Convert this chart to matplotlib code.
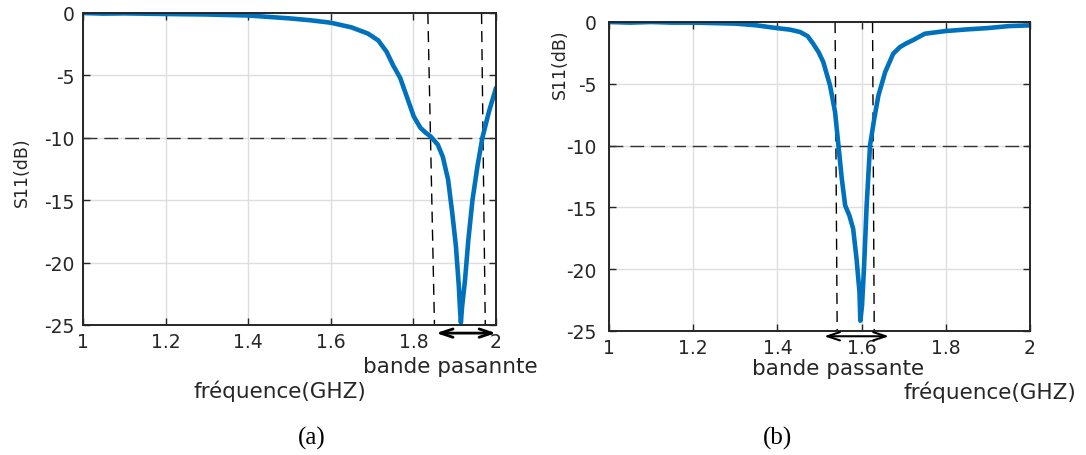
import numpy as np
import matplotlib.pyplot as plt

plt.rcParams['font.family'] = 'DejaVu Sans'
plt.rcParams['axes.unicode_minus'] = False

# (a) S11 mesure, fréquence en GHz
freq_a = [1.0, 1.05, 1.1, 1.2, 1.3, 1.4, 1.5, 1.55, 1.6, 1.65, 1.69, 1.715, 1.735,
          1.751, 1.768, 1.784, 1.801, 1.817, 1.83, 1.842, 1.859, 1.871, 1.884,
          1.894, 1.903, 1.910, 1.913, 1.915, 1.918, 1.925, 1.933, 1.943, 1.955,
          1.967, 1.983, 2.0]
s11_a = [0, -0.05, -0.03, -0.08, -0.12, -0.2, -0.43, -0.58, -0.78, -1.15, -1.65,
         -2.2, -3.1, -4.2, -5.2, -6.7, -8.3, -9.2, -9.6, -9.9, -10.55, -11.5,
         -13.35, -16.0, -18.7, -21.9, -23.8, -24.8, -23.5, -21.4, -18.2, -15.0,
         -12.3, -10.0, -7.9, -6.0]

# (b)
freq_b = [1.0, 1.05, 1.1, 1.15, 1.2, 1.3, 1.35, 1.4, 1.43, 1.454, 1.472, 1.485,
          1.498, 1.509, 1.525, 1.537, 1.545, 1.553, 1.561, 1.571, 1.58, 1.588,
          1.595, 1.597, 1.601, 1.606, 1.612, 1.62, 1.63, 1.64, 1.656, 1.675,
          1.691, 1.705, 1.723, 1.75, 1.8, 1.85, 1.9, 1.95, 2.0]
s11_b = [0, -0.05, 0.0, -0.05, -0.05, -0.13, -0.27, -0.5, -0.62, -0.81, -1.15,
         -1.76, -2.45, -3.24, -5.13, -7.29, -9.99, -12.69, -14.85, -15.66, -16.74,
         -19.17, -21.87, -24.17, -22.95, -19.7, -14.85, -10.0, -7.83, -5.94,
         -4.05, -2.57, -2.03, -1.75, -1.45, -0.95, -0.73, -0.6, -0.49, -0.33,
         -0.27]

# bornes de la bande passante (lignes pointillées, légèrement inclinées sur l'image)
band_a = [(1.835, 1.851), (1.965, 1.974)]
band_b = [(1.537, 1.542), (1.626, 1.630)]
arrow_a = (1.855, 2.0)
arrow_b = (1.511, 1.665)

W, H = 1086, 456
fig = plt.figure(figsize=(W / 100, H / 100), dpi=100)


def px(x, y):
    return x / W, 1 - y / H


def style_axes(ax, pad):
    ax.set_xlim(1, 2)
    ax.set_ylim(-25, 0)
    ax.set_xticks([1, 1.2, 1.4, 1.6, 1.8, 2])
    ax.set_xticklabels(['1', '1.2', '1.4', '1.6', '1.8', '2'])
    ax.set_yticks([0, -5, -10, -15, -20, -25])
    ax.grid(True, color='#dedede', linewidth=1)
    ax.set_axisbelow(True)
    ax.tick_params(direction='in', top=True, right=True, labelsize=13.5,
                   length=5, width=1, colors='#262626')
    ax.tick_params(axis='x', pad=5)
    ax.tick_params(axis='y', pad=pad)
    for sp in ax.spines.values():
        sp.set_linewidth(1.4)
        sp.set_color('#262626')


def draw(ax, f, s, band, arrow, alw, ay):
    ax.axhline(-10, color='#333333', lw=1, dashes=(10, 5))
    for x0, x1 in band:
        ax.plot([x0, x1], [0, -25], color='black', lw=1, dashes=(8, 5))
    ax.plot(f, s, color='#0072BD', lw=3.3, solid_joinstyle='round',
            solid_capstyle='round')
    ax.annotate('', xy=(arrow[0], ay), xytext=(arrow[1], ay),
                xycoords=('data', 'axes fraction'),
                textcoords=('data', 'axes fraction'),
                arrowprops=dict(arrowstyle='<->,head_length=0.9,head_width=0.3',
                                color='black', lw=alw, shrinkA=0, shrinkB=0),
                annotation_clip=False)


# (a)
ax1 = fig.add_axes([83 / W, 1 - 326 / H, (496 - 83) / W, (326 - 14) / H])
style_axes(ax1, 6)
draw(ax1, freq_a, s11_a, band_a, arrow_a, 2, -0.026)
fig.text(*px(22, 172), 'S11(dB)', rotation=90, ha='center', va='center',
         fontsize=12.5, color='#262626')
fig.text(*px(450, 367), 'bande pasannte', ha='center', va='center',
         fontsize=15.5, color='#262626')
fig.text(*px(280, 391), 'fréquence(GHZ)', ha='center', va='center',
         fontsize=15.5, color='#262626')
fig.text(*px(312, 438), '(a)', ha='center', va='center', fontsize=18,
         family='Liberation Serif')

# (b)
ax2 = fig.add_axes([609 / W, 1 - 332 / H, (1030 - 609) / W, (332 - 23) / H])
style_axes(ax2, 9)
draw(ax2, freq_b, s11_b, band_b, arrow_b, 1.5, -0.017)
fig.text(*px(560, 64), 'S11(dB)', rotation=90, ha='center', va='center',
         fontsize=12.5, color='#262626')
fig.text(*px(838, 369), 'bande passante', ha='center', va='center',
         fontsize=15.5, color='#262626')
fig.text(*px(990, 392), 'fréquence(GHZ)', ha='center', va='center',
         fontsize=15.5, color='#262626')
fig.text(*px(778, 438), '(b)', ha='center', va='center', fontsize=18,
         family='Liberation Serif')

fig.savefig('out.png', dpi=100)
